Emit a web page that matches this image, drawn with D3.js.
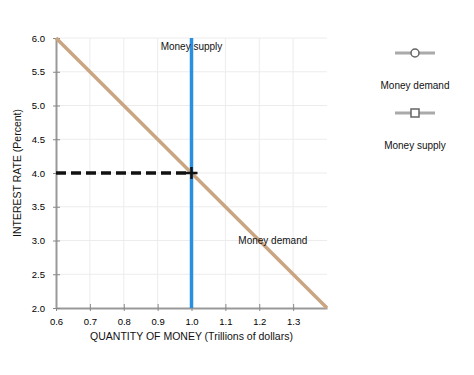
<!DOCTYPE html>
<html>
<head>
<meta charset="UTF-8">
<script src="https://d3js.org/d3.v7.min.js"></script>
<style>
  body { margin: 0; background: #fff; font-family: "Liberation Sans", Arial, sans-serif; }
  svg { display: block; }
</style>
</head>
<body>
<svg id="chart" width="474" height="375"></svg>
<script>
    // data
    const xTicks = [0.6, 0.7, 0.8, 0.9, 1.0, 1.1, 1.2, 1.3];
    const yTicks = [2.0, 2.5, 3.0, 3.5, 4.0, 4.5, 5.0, 5.5, 6.0];
    const demandQty = [0.6, 1.4];
    const demandRate = [6.0, 2.0];
    const supplyQty = [1.0, 1.0];
    const supplyRate = [2.0, 6.0];
    const eqQty = [0.6, 1.0];
    const eqRate = [4.0, 4.0];
    const seriesNames = ["Money demand", "Money supply"];

    const svg = d3.select("#chart");
    const x = d3.scaleLinear().domain([0.6, 1.4]).range([56, 327]);
    const y = d3.scaleLinear().domain([2, 6]).range([308, 38]);

    const demandColor = "#c9a582";
    const supplyColor = "#2a8fe0";

    // grid
    svg.append("g").selectAll("line").data(xTicks.slice(1)).enter().append("line")
        .attr("x1", d => x(d)).attr("x2", d => x(d))
        .attr("y1", y(2)).attr("y2", y(6))
        .attr("stroke", "#ececec").attr("stroke-width", 1);
    svg.append("g").selectAll("line").data(yTicks.slice(1)).enter().append("line")
        .attr("x1", x(0.6)).attr("x2", x(1.4))
        .attr("y1", d => y(d)).attr("y2", d => y(d))
        .attr("stroke", "#ececec").attr("stroke-width", 1);

    // axes
    const xAxis = d3.axisBottom(x).tickValues(xTicks).tickFormat(d3.format(".1f"))
        .tickSizeInner(-4).tickSizeOuter(0).tickPadding(10);
    const yAxis = d3.axisLeft(y).tickValues(yTicks).tickFormat(d3.format(".1f"))
        .tickSizeInner(-4).tickSizeOuter(0).tickPadding(11);

    const gx = svg.append("g").attr("transform", `translate(0,${y(2)})`).call(xAxis);
    const gy = svg.append("g").attr("transform", `translate(${x(0.6)},0)`).call(yAxis);
    [gx, gy].forEach(g => {
        g.select(".domain").attr("stroke", "#999").attr("stroke-width", 2);
        g.selectAll(".tick line").attr("stroke", "#888");
        g.selectAll(".tick text").attr("fill", "#000").style("font-size", "9.5px")
            .style("font-family", "'Liberation Sans', Arial, sans-serif");
    });
    gx.selectAll(".tick line").attr("y1", 3).attr("y2", -4);
    gy.selectAll(".tick line").attr("x1", -3).attr("x2", 4);

    // axis titles
    svg.append("text")
        .attr("x", x(1.0)).attr("y", 340)
        .attr("text-anchor", "middle")
        .style("font-size", "10.5px").attr("fill", "#111")
        .text("QUANTITY OF MONEY (Trillions of dollars)");
    svg.append("text")
        .attr("transform", `translate(21,${y(4)}) rotate(-90)`)
        .attr("text-anchor", "middle")
        .style("font-size", "10.5px").attr("fill", "#111")
        .text("INTEREST RATE (Percent)");

    const line = d3.line().x(d => x(d[0])).y(d => y(d[1]));

    // demand
    svg.append("path")
        .datum(d3.zip(demandQty, demandRate))
        .attr("d", line).attr("fill", "none")
        .attr("stroke", demandColor).attr("stroke-width", 3.5);

    // supply
    svg.append("path")
        .datum(d3.zip(supplyQty, supplyRate))
        .attr("d", line).attr("fill", "none")
        .attr("stroke", supplyColor).attr("stroke-width", 3.5);

    // equilibrium dashed
    svg.append("path")
        .datum(d3.zip(eqQty, eqRate))
        .attr("d", line).attr("fill", "none")
        .attr("stroke", "#111").attr("stroke-width", 3.5)
        .attr("stroke-dasharray", "10,5");

    // plus marker
    const px = x(eqQty[1]), py = y(eqRate[1]);
    svg.append("path")
        .attr("d", `M${px - 6},${py}H${px + 6}M${px},${py - 6}V${py + 6}`)
        .attr("stroke", "#111").attr("stroke-width", 2.5);

    // curve labels
    svg.append("text").attr("x", x(1.0)).attr("y", y(6) + 12)
        .attr("text-anchor", "middle").style("font-size", "10px").attr("fill", "#111")
        .text(seriesNames[1]);
    svg.append("text").attr("x", x(1.24)).attr("y", y(3) + 3)
        .attr("text-anchor", "middle").style("font-size", "10px").attr("fill", "#111")
        .text(seriesNames[0]);

    // legend
    const legend = svg.append("g");
    [0, 1].forEach(i => {
        const cy = 53 + i * 60;
        legend.append("line").attr("x1", 395).attr("x2", 435).attr("y1", cy).attr("y2", cy)
            .attr("stroke", "#aaa").attr("stroke-width", 3);
        if (i === 0) {
            legend.append("circle").attr("cx", 415).attr("cy", cy).attr("r", 4)
                .attr("fill", "#fff").attr("stroke", "#666").attr("stroke-width", 1.5);
        } else {
            legend.append("rect").attr("x", 411).attr("y", cy - 4).attr("width", 8).attr("height", 8)
                .attr("fill", "#fff").attr("stroke", "#666").attr("stroke-width", 1.5);
        }
        legend.append("text").attr("x", 415).attr("y", cy + 36)
            .attr("text-anchor", "middle").style("font-size", "10px").attr("fill", "#111")
            .text(seriesNames[i]);
    });
</script>
</body>
</html>
